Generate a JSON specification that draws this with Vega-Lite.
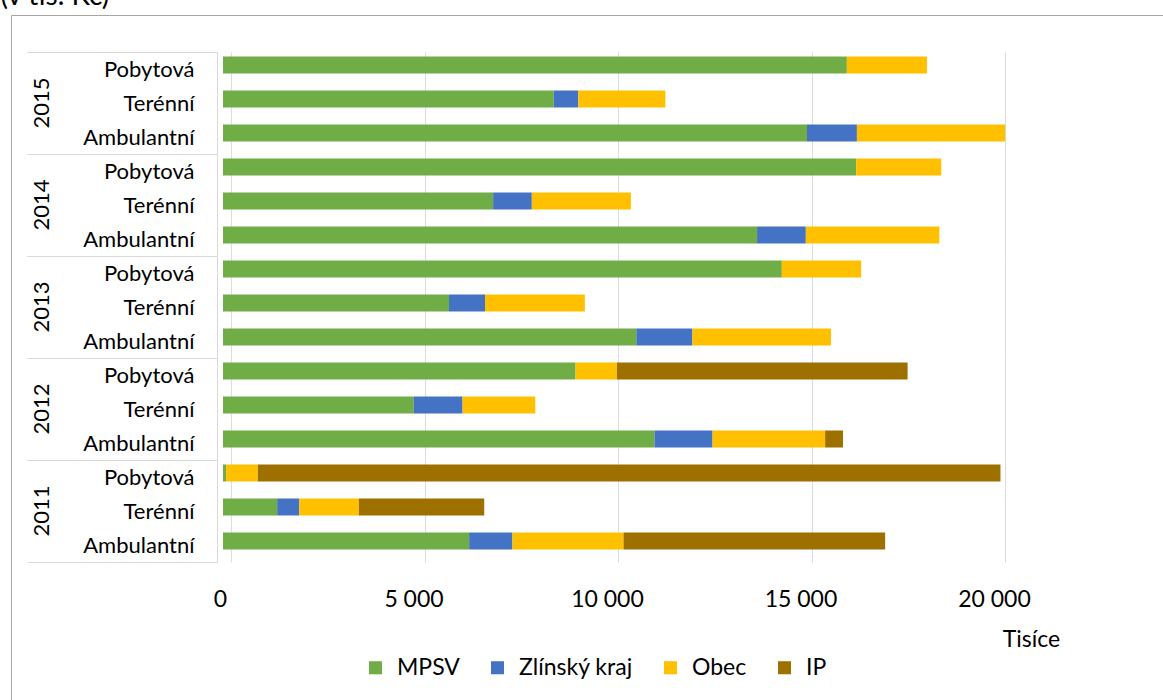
{
  "$schema": "https://vega.github.io/schema/vega-lite/v6.json",
  "padding": {"left": 0, "top": -18, "right": 0, "bottom": 0},
  "background": "white",
  "config": {
    "locale": {"number": {"decimal": ",", "thousands": " ", "grouping": [3], "currency": ["", " Kč"]}},
    "font": "Lato",
    "view": {"stroke": null}
  },
  "title": {"text": "(v tis. Kč)", "anchor": "start", "frame": "bounds", "fontSize": 28, "fontWeight": "normal", "font": "Lato", "color": "#000", "offset": 4, "dx": -10},
  "datasets": {
    "sources": [
      {"source": "MPSV", "rank": 1},
      {"source": "Zlínský kraj", "rank": 2},
      {"source": "Obec", "rank": 3},
      {"source": "IP", "rank": 4}
    ],
    "rows": [
      {"year": "2015", "type": "Pobytová", "source": "MPSV", "value": 16120},
      {"year": "2015", "type": "Pobytová", "source": "Obec", "value": 2070},
      {"year": "2015", "type": "Terénní", "source": "MPSV", "value": 8545},
      {"year": "2015", "type": "Terénní", "source": "Zlínský kraj", "value": 635},
      {"year": "2015", "type": "Terénní", "source": "Obec", "value": 2250},
      {"year": "2015", "type": "Ambulantní", "source": "MPSV", "value": 15090},
      {"year": "2015", "type": "Ambulantní", "source": "Zlínský kraj", "value": 1290},
      {"year": "2015", "type": "Ambulantní", "source": "Obec", "value": 3830},
      {"year": "2014", "type": "Pobytová", "source": "MPSV", "value": 16360},
      {"year": "2014", "type": "Pobytová", "source": "Obec", "value": 2200},
      {"year": "2014", "type": "Terénní", "source": "MPSV", "value": 6980},
      {"year": "2014", "type": "Terénní", "source": "Zlínský kraj", "value": 1000},
      {"year": "2014", "type": "Terénní", "source": "Obec", "value": 2560},
      {"year": "2014", "type": "Ambulantní", "source": "MPSV", "value": 13800},
      {"year": "2014", "type": "Ambulantní", "source": "Zlínský kraj", "value": 1260},
      {"year": "2014", "type": "Ambulantní", "source": "Obec", "value": 3450},
      {"year": "2013", "type": "Pobytová", "source": "MPSV", "value": 14440},
      {"year": "2013", "type": "Pobytová", "source": "Obec", "value": 2050},
      {"year": "2013", "type": "Terénní", "source": "MPSV", "value": 5840},
      {"year": "2013", "type": "Terénní", "source": "Zlínský kraj", "value": 930},
      {"year": "2013", "type": "Terénní", "source": "Obec", "value": 2580},
      {"year": "2013", "type": "Ambulantní", "source": "MPSV", "value": 10680},
      {"year": "2013", "type": "Ambulantní", "source": "Zlínský kraj", "value": 1450},
      {"year": "2013", "type": "Ambulantní", "source": "Obec", "value": 3580},
      {"year": "2012", "type": "Pobytová", "source": "MPSV", "value": 9110},
      {"year": "2012", "type": "Pobytová", "source": "Obec", "value": 1070},
      {"year": "2012", "type": "Pobytová", "source": "IP", "value": 7510},
      {"year": "2012", "type": "Terénní", "source": "MPSV", "value": 4930},
      {"year": "2012", "type": "Terénní", "source": "Zlínský kraj", "value": 1260},
      {"year": "2012", "type": "Terénní", "source": "Obec", "value": 1880},
      {"year": "2012", "type": "Ambulantní", "source": "MPSV", "value": 11150},
      {"year": "2012", "type": "Ambulantní", "source": "Zlínský kraj", "value": 1500},
      {"year": "2012", "type": "Ambulantní", "source": "Obec", "value": 2910},
      {"year": "2012", "type": "Ambulantní", "source": "IP", "value": 460},
      {"year": "2011", "type": "Pobytová", "source": "MPSV", "value": 80},
      {"year": "2011", "type": "Pobytová", "source": "Obec", "value": 820},
      {"year": "2011", "type": "Pobytová", "source": "IP", "value": 19190},
      {"year": "2011", "type": "Terénní", "source": "MPSV", "value": 1400},
      {"year": "2011", "type": "Terénní", "source": "Zlínský kraj", "value": 570},
      {"year": "2011", "type": "Terénní", "source": "Obec", "value": 1540},
      {"year": "2011", "type": "Terénní", "source": "IP", "value": 3240},
      {"year": "2011", "type": "Ambulantní", "source": "MPSV", "value": 6360},
      {"year": "2011", "type": "Ambulantní", "source": "Zlínský kraj", "value": 1120},
      {"year": "2011", "type": "Ambulantní", "source": "Obec", "value": 2870},
      {"year": "2011", "type": "Ambulantní", "source": "IP", "value": 6760}
    ]
  },
  "data": {"name": "rows"},
  "transform": [
    {"lookup": "source", "from": {"data": {"name": "sources"}, "key": "source", "fields": ["rank"]}}
  ],
  "facet": {
    "row": {
      "field": "year", "type": "ordinal", "sort": "descending",
      "header": {"title": null, "labelAngle": -90, "labelOrient": "left", "labelFontSize": 22, "labelFont": "Lato", "labelColor": "#000", "labelPadding": -37}
    }
  },
  "spacing": 0,
  "spec": {
    "width": 774,
    "height": 102,
    "mark": {"type": "bar", "height": {"band": 0.5}, "xOffset": -8, "x2Offset": -8, "yOffset": -4},
    "encoding": {
      "y": {
        "field": "type", "type": "nominal",
        "sort": ["Pobytová", "Terénní", "Ambulantní"],
        "scale": {"paddingInner": 0, "paddingOuter": 0},
        "axis": {
          "title": null, "orient": "left", "offset": 6,
          "domainColor": "#d9d9d9",
          "tickBand": "extent", "tickSize": 190,
          "tickColor": {"condition": {"test": "datum.value === 'Pobytová' || datum.value === 'Terénní'", "value": "transparent"}, "value": "#d9d9d9"},
          "labelPadding": -167, "labelFontSize": 22, "labelFont": "Lato", "labelColor": "#000"
        }
      },
      "x": {
        "field": "value", "type": "quantitative",
        "scale": {"domain": [0, 20000], "nice": false},
        "axis": {
          "values": [0, 5000, 10000, 15000, 20000], "format": ",d",
          "grid": true, "gridColor": "#d9dce3", "domain": false, "ticks": false,
          "labelFontSize": 23, "labelFont": "Lato", "labelColor": "#000", "labelPadding": 26,
          "labelFlush": false, "labelOffset": -11,
          "title": "Tisíce", "titleFontSize": 23, "titleFont": "Lato", "titleFontWeight": "normal", "titleColor": "#000",
          "titleX": 800, "titleY": 77, "titleAlign": "center", "titleBaseline": "middle"
        }
      },
      "order": {"field": "rank", "type": "quantitative"},
      "color": {
        "field": "source", "type": "nominal",
        "sort": ["MPSV", "Zlínský kraj", "Obec", "IP"],
        "scale": {"domain": ["MPSV", "Zlínský kraj", "Obec", "IP"], "range": ["#70ad47", "#4472c4", "#ffc000", "#9e7000"]},
        "legend": {
          "title": " ", "titleFontSize": 10, "titlePadding": 278,
          "orient": "none", "direction": "horizontal", "legendX": -220, "legendY": -37,
          "padding": 353, "strokeColor": "#a6a6a6",
          "symbolType": "square", "symbolSize": 170, "symbolStrokeWidth": 0,
          "labelFontSize": 23, "labelFont": "Lato", "labelColor": "#000", "columnPadding": 26, "labelOffset": 10
        }
      }
    }
  }
}
